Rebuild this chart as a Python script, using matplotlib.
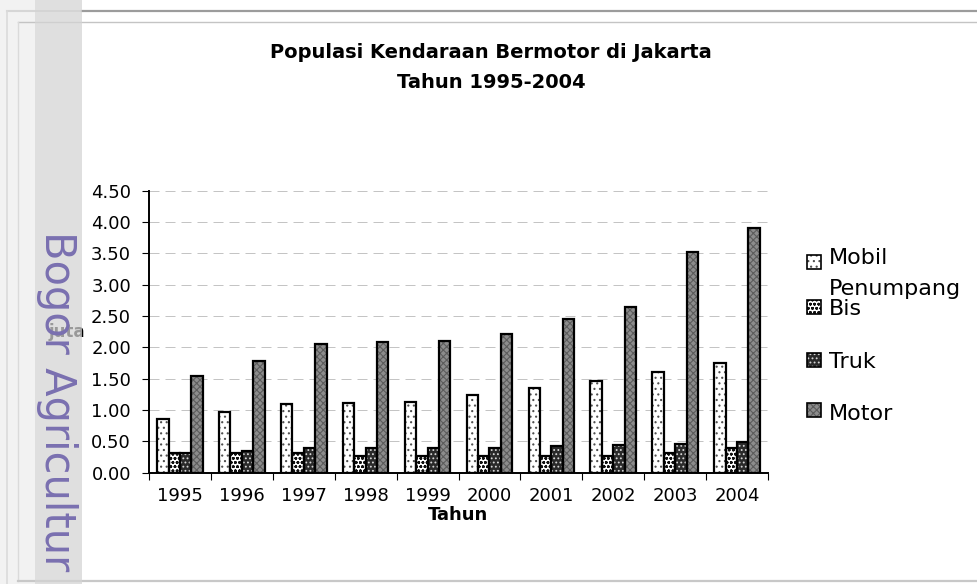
import matplotlib
matplotlib.use("Agg")
import matplotlib.pyplot as plt
from matplotlib.patches import Rectangle
from matplotlib.lines import Line2D
import numpy as np

# ---------------- data ----------------
years = ["1995", "1996", "1997", "1998", "1999", "2000", "2001", "2002", "2003", "2004"]
mobil = [0.85, 0.97, 1.10, 1.11, 1.13, 1.24, 1.35, 1.47, 1.60, 1.75]
bis = [0.31, 0.31, 0.31, 0.26, 0.26, 0.26, 0.26, 0.26, 0.32, 0.39]
truk = [0.32, 0.35, 0.39, 0.39, 0.39, 0.40, 0.42, 0.44, 0.46, 0.49]
motor = [1.54, 1.78, 2.06, 2.08, 2.10, 2.21, 2.45, 2.65, 3.52, 3.90]
series_names = ["Mobil\nPenumpang", "Bis", "Truk", "Motor"]
yticks = [0.0, 0.5, 1.0, 1.5, 2.0, 2.5, 3.0, 3.5, 4.0, 4.5]
title_text = "Populasi Kendaraan Bermotor di Jakarta\nTahun 1995-2004"
xlabel_text = "Tahun"
ylabel_text = "juta"
watermark_text = "Bogor Agricultur"

series = [mobil, bis, truk, motor]
# face colour, hatch pattern, hatch colour
styles = [
    ("white", "...", "#505050"),
    ("white", "oooo", "#101010"),
    ("#2a2a2a", "....", "#d8d8d8"),
    ("#8c8c8c", "xxxxx", "#5c5c5c"),
]

W, H = 977, 584
plt.rcParams["font.family"] = ["DejaVu Sans"]
plt.rcParams["hatch.linewidth"] = 0.8

fig = plt.figure(figsize=(W / 100, H / 100), dpi=100)
fig.patch.set_facecolor("white")


def fx(x):
    return x / W


def fy(y):
    return 1 - y / H


# ---------------- page decoration ----------------
fig.add_artist(Rectangle((0, 0), fx(35), 1, transform=fig.transFigure,
                         facecolor="#f2f2f2", edgecolor="none", zorder=-5))
for (x0, y0, x1, y1, c, lw) in [
    (7, 10.5, 82, 10.5, "#d6d6d6", 1.5),
    (82, 10.5, 977, 10.5, "#9c9c9c", 1.6),
    (7, 10.5, 7, 584, "#dadada", 1.2),
    (18, 22, 977, 22, "#c4c4c4", 1.0),
    (18, 22, 18, 581, "#dadada", 1.0),
    (18, 581, 977, 581, "#c8c8c8", 1.6),
]:
    fig.add_artist(Line2D([fx(x0), fx(x1)], [fy(y0), fy(y1)], transform=fig.transFigure,
                          color=c, lw=lw, zorder=-4))

# ---------------- axes ----------------
ax_l, ax_r, ax_t, ax_b = 149, 768, 190.7, 472.7
ax = fig.add_axes([fx(ax_l), fy(ax_b), (ax_r - ax_l) / W, (ax_b - ax_t) / H])
ax.set_facecolor("white")

x = np.arange(len(years))
n = len(series)
bw = 0.184
for i, (vals, (fc, hatch, hc)) in enumerate(zip(series, styles)):
    pos = x + (i - (n - 1) / 2) * bw
    ax.bar(pos, vals, width=bw, color=fc, edgecolor=hc, hatch=hatch, linewidth=0, zorder=3)
    ax.bar(pos, vals, width=bw, color="none", edgecolor="black", linewidth=1.6, zorder=4)

ax.set_xlim(-0.5, len(years) - 0.5)
ax.set_ylim(0, 4.5)
ax.set_yticks(yticks)
ax.set_yticklabels([f"{v:.2f}" for v in yticks])
ax.yaxis.grid(True, color="#c4c4c4", linewidth=0.72, linestyle=(0, (10, 6)), zorder=0)
ax.set_axisbelow(True)

ax.set_xticks(x)
ax.set_xticklabels(years)
ax.set_xticks(np.arange(len(years) + 1) - 0.5, minor=True)
ax.tick_params(axis="x", which="major", length=0, pad=10.5, labelsize=13)
ax.tick_params(axis="x", which="minor", length=5, width=0.8, direction="out")
ax.tick_params(axis="y", which="major", length=5, width=0.8, direction="out", pad=8, labelsize=13)

for s in ["top", "right"]:
    ax.spines[s].set_visible(False)
for s in ["left", "bottom"]:
    ax.spines[s].set_linewidth(1.4)

ax.set_xlabel(xlabel_text, fontsize=13, fontweight="bold", va="center")
ax.xaxis.set_label_coords(0.5, (ax_b - 515) / (ax_b - ax_t))
ax.set_ylabel(ylabel_text, fontsize=12, fontweight="bold", rotation=0, ha="center", va="center")
ax.yaxis.set_label_coords((67 - ax_l) / (ax_r - ax_l), (ax_b - 332) / (ax_b - ax_t))

# ---------------- title (baseline of last line) ----------------
fig.text(fx(491), fy(88.3), title_text, ha="center", va="baseline", fontsize=14,
         fontweight="bold", linespacing=1.78, multialignment="center")

# ---------------- legend ----------------
leg_box_y = [261.5, 307, 360, 410]
leg_text_y = [295, 315, 368, 420]   # baseline of the last line of each label
for name, (fc, hatch, hc), by, ty in zip(series_names, styles, leg_box_y, leg_text_y):
    fig.add_artist(Rectangle((fx(807), fy(by + 7)), 14 / W, 14 / H, transform=fig.transFigure,
                             facecolor=fc, edgecolor=hc, hatch=hatch, linewidth=0, zorder=5))
    fig.add_artist(Rectangle((fx(807), fy(by + 7)), 14 / W, 14 / H, transform=fig.transFigure,
                             facecolor="none", edgecolor="black", linewidth=1.2, zorder=6))
    fig.text(fx(829), fy(ty), name, ha="left", va="baseline", fontsize=16, linespacing=1.68)

# ---------------- watermark strip ----------------
fig.add_artist(Rectangle((fx(35), 0), (82 - 35) / W, 1, transform=fig.transFigure,
                         facecolor="#d4d4d4", edgecolor="none", alpha=0.725, zorder=10))
fig.text(fx(45), fy(231), watermark_text, rotation=-90, rotation_mode="anchor",
         ha="left", va="baseline", fontsize=30, color="#7a70b0", zorder=11)

fig.savefig("out.png", dpi=100)
